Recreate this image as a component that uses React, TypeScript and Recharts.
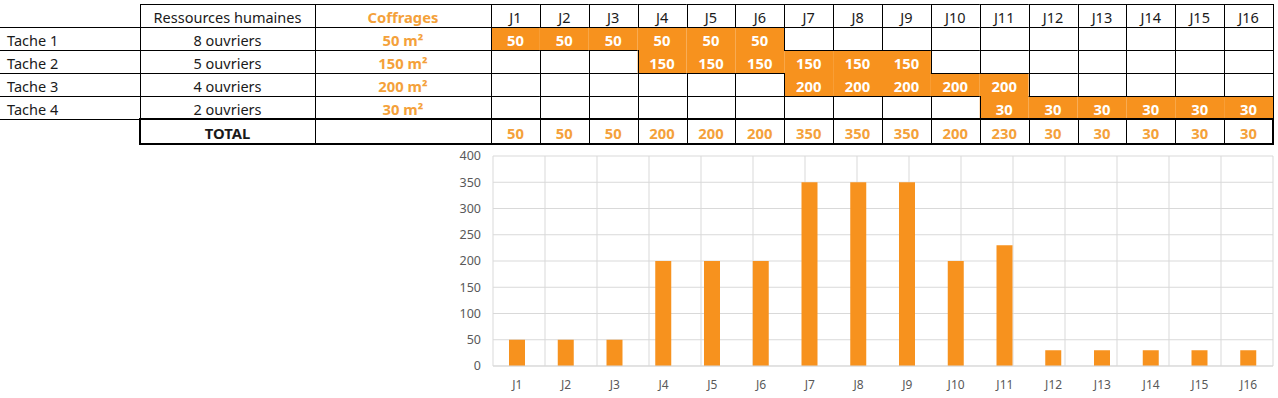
import React from "react";
import { BarChart, Bar, XAxis, YAxis, CartesianGrid } from "recharts";

// ---- data ----
const days = ["J1", "J2", "J3", "J4", "J5", "J6", "J7", "J8", "J9", "J10", "J11", "J12", "J13", "J14", "J15", "J16"];
const tasks = ["Tache 1", "Tache 2", "Tache 3", "Tache 4"];
const workers = ["8 ouvriers", "5 ouvriers", "4 ouvriers", "2 ouvriers"];
const coffrages = ["50 m²", "150 m²", "200 m²", "30 m²"];

const tache1 = [50, 50, 50, 50, 50, 50, null, null, null, null, null, null, null, null, null, null];
const tache2 = [null, null, null, 150, 150, 150, 150, 150, 150, null, null, null, null, null, null, null];
const tache3 = [null, null, null, null, null, null, 200, 200, 200, 200, 200, null, null, null, null, null];
const tache4 = [null, null, null, null, null, null, null, null, null, null, 30, 30, 30, 30, 30, 30];
const taskRows = [tache1, tache2, tache3, tache4];

const totals = [50, 50, 50, 200, 200, 200, 350, 350, 350, 200, 230, 30, 30, 30, 30, 30];

const yTicks = [0, 50, 100, 150, 200, 250, 300, 350, 400];
const gridTicks = [0, 1, 2, 3, 4, 5, 6, 7, 8, 9, 10, 11, 12, 13, 14, 15, 16];

// ---- styles ----
const colors = {
  fill: "#F7921E",
  orangeText: "#F4A13A",
  text: "#1a1a1a",
  axisText: "#595959",
  grid: "#d9d9d9",
};
const FONT = "'Noto Sans', sans-serif";

// table geometry
const rowY = [4, 27, 50, 73, 96, 119, 144];
const fixedX = [0, 140, 315, 491];
const dayW = 48.875;
const colX = [...fixedX, ...days.map((_, i) => 491 + (i + 1) * dayW)];

const isOrange = (r: number, c: number) =>
  r >= 1 && r <= 4 && c >= 3 && taskRows[r - 1][c - 3] != null;

function Table() {
  const nCols = colX.length - 1;
  const fills: React.ReactNode[] = [];
  const lines: React.ReactNode[] = [];
  const texts: React.ReactNode[] = [];

  // orange cells
  for (let r = 1; r <= 4; r++) {
    for (let c = 3; c < nCols; c++) {
      if (isOrange(r, c)) {
        fills.push(
          <rect key={`f${r}-${c}`} x={colX[c]} y={rowY[r]} width={colX[c + 1] - colX[c]} height={rowY[r + 1] - rowY[r]} fill={colors.fill} />
        );
      }
    }
  }

  // horizontal edges
  for (let k = 0; k < rowY.length; k++) {
    for (let c = 0; c < nCols; c++) {
      let w = 0;
      if (k === 0) w = c >= 1 ? 1 : 0;
      else if (k === 6) w = c >= 1 ? 2 : 0;
      else if (k === 5) w = c >= 1 ? 2 : 1;
      else w = isOrange(k - 1, c) && isOrange(k, c) ? 0 : 1;
      if (!w) continue;
      const y = w === 1 ? rowY[k] + 0.5 : rowY[k];
      lines.push(
        <line key={`h${k}-${c}`} x1={colX[c] - (w === 2 ? 1 : 0)} x2={colX[c + 1] + (w === 2 ? 1 : 0)} y1={y} y2={y} stroke="#000" strokeWidth={w} />
      );
    }
  }

  // vertical edges
  for (let j = 1; j < colX.length; j++) {
    for (let r = 0; r < rowY.length - 1; r++) {
      let w = 1;
      if (j === 1 || j === colX.length - 1) w = r === 5 ? 2 : 1;
      else if (r >= 1 && r <= 4 && j >= 4 && isOrange(r, j - 1) && isOrange(r, j)) w = 0;
      if (!w) continue;
      const x = w === 1 ? Math.round(colX[j]) + 0.5 : Math.round(colX[j]);
      lines.push(
        <line key={`v${j}-${r}`} x1={x} x2={x} y1={rowY[r]} y2={rowY[r + 1] + (w === 1 ? 1 : 0)} stroke="#000" strokeWidth={w} />
      );
    }
  }

  const cx = (c: number) => (colX[c] + colX[c + 1]) / 2;
  const cy = (r: number) => (rowY[r] + rowY[r + 1]) / 2 + 1;
  const txt = (key: string, x: number, y: number, s: string, opts: any = {}) => (
    <text key={key} x={x} y={y} textAnchor={opts.anchor ?? "middle"} dominantBaseline="central"
      fontSize={opts.bold ? 14.8 : 14.5}
      fontWeight={opts.bold ? 700 : 400} fill={opts.color ?? colors.text}>{s}</text>
  );

  // header
  texts.push(txt("h1", cx(1), cy(0), "Ressources humaines"));
  texts.push(txt("h2", cx(2), cy(0), "Coffrages", { bold: true, color: colors.orangeText }));
  days.forEach((d, i) => texts.push(txt(`hd${i}`, cx(i + 3), cy(0), d)));

  // task rows
  tasks.forEach((t, i) => {
    const r = i + 1;
    texts.push(txt(`t${i}`, 7, cy(r), t, { anchor: "start" }));
    texts.push(txt(`w${i}`, cx(1), cy(r), workers[i]));
    texts.push(txt(`c${i}`, cx(2), cy(r), coffrages[i], { bold: true, color: colors.orangeText }));
    taskRows[i].forEach((v, j) => {
      if (v != null) texts.push(txt(`v${i}-${j}`, cx(j + 3), cy(r), String(v), { bold: true, color: "#fff" }));
    });
  });

  // total row
  texts.push(txt("tot", cx(1), cy(5), "TOTAL", { bold: true }));
  totals.forEach((v, j) => texts.push(txt(`tt${j}`, cx(j + 3), cy(5), String(v), { bold: true, color: colors.orangeText })));

  return (
    <svg width={1278} height={150} style={{ position: "absolute", left: 0, top: 0, fontFamily: FONT }}>
      {fills}
      {lines}
      {texts}
    </svg>
  );
}

export default function App() {
  const chartData = days.map((d, i) => ({ day: d, total: totals[i] }));

  return (
    <div style={{ position: "fixed", left: 0, top: 0, width: 1278, height: 398, background: "#fff", fontFamily: FONT }}>
      <Table />
      <div style={{ position: "absolute", left: 430, top: 145 }}>
        <BarChart width={848} height={253} data={chartData} margin={{ top: 11, right: 5, bottom: 2, left: 0 }}>
          <CartesianGrid stroke={colors.grid} xAxisId="grid" />
          <XAxis
            dataKey="day"
            axisLine={{ stroke: colors.grid }}
            tickLine={false}
            tickMargin={8}
            height={30}
            tick={{ fill: colors.axisText, fontSize: 12 }}
          />
          <XAxis xAxisId="grid" type="number" domain={[0, 16]} ticks={gridTicks} hide />
          <YAxis
            domain={[0, 400]}
            ticks={yTicks}
            axisLine={false}
            tickLine={false}
            tickMargin={6}
            width={63}
            interval={0}
            tick={{ fill: colors.axisText, fontSize: 12.5 }}
          />
          <Bar dataKey="total" fill={colors.fill} barSize={16} isAnimationActive={false} />
        </BarChart>
      </div>
    </div>
  );
}
